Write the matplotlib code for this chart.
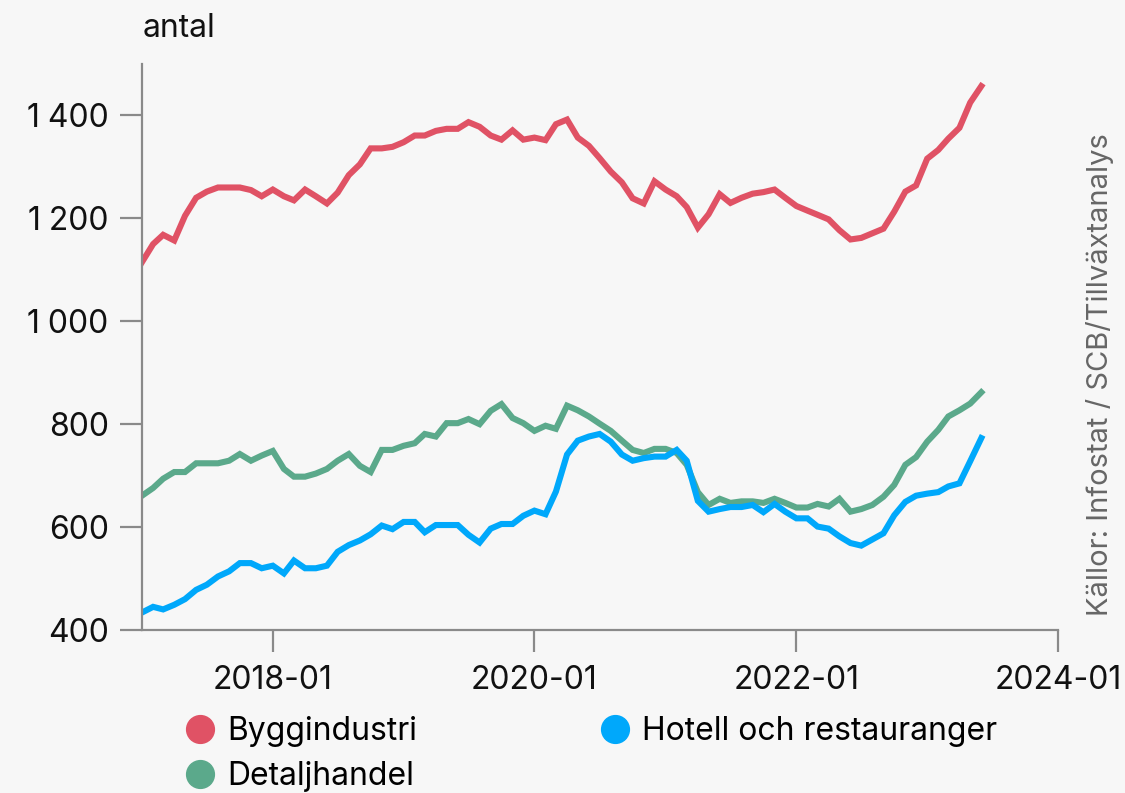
import matplotlib.pyplot as plt
import matplotlib.dates as mdates
import pandas as pd

# monthly values, 2017-01 .. 2023-06
months = pd.date_range("2017-01-01", periods=78, freq="MS")

bygg = [1115, 1150, 1168, 1157, 1205, 1240, 1252, 1260, 1260, 1260,
        1255, 1243, 1256, 1243, 1235, 1256, 1243, 1229, 1250, 1284,
        1305, 1336, 1336, 1339, 1348, 1361, 1361, 1370, 1374, 1374,
        1387, 1378, 1361, 1353, 1371, 1353, 1357, 1352, 1383, 1392,
        1357, 1341, 1317, 1291, 1270, 1239, 1229, 1272, 1256, 1243,
        1222, 1182, 1208, 1247, 1230, 1240, 1248, 1251, 1256, 1240,
        1224, 1215, 1207, 1198, 1177, 1159, 1162, 1171, 1180, 1213,
        1252, 1264, 1316, 1333, 1355, 1376, 1425, 1457]

detalj = [661, 676, 694, 707, 707, 724, 724, 724, 729, 742,
          729, 739, 748, 713, 698, 698, 704, 713, 729, 742,
          719, 707, 750, 750, 758, 763, 781, 776, 802, 802,
          810, 800, 826, 839, 812, 802, 787, 797, 791, 836,
          827, 815, 801, 787, 768, 750, 744, 752, 752, 744,
          721, 668, 643, 655, 647, 650, 650, 647, 655, 647,
          638, 638, 645, 640, 655, 630, 635, 643, 659, 682,
          721, 736, 766, 789, 815, 827, 840, 862]

hotell = [434, 445, 440, 449, 460, 478, 488, 504, 514, 530,
          530, 520, 525, 510, 535, 520, 520, 525, 552, 565,
          574, 586, 603, 596, 610, 610, 590, 604, 604, 604,
          585, 570, 597, 606, 606, 622, 632, 625, 669, 741,
          768, 776, 781, 766, 741, 729, 734, 737, 737, 750,
          729, 651, 630, 635, 639, 639, 643, 629, 645, 630,
          617, 617, 601, 597, 582, 569, 564, 576, 588, 623,
          649, 661, 665, 668, 679, 685, 728, 773]

series_names = ["Byggindustri", "Detaljhandel", "Hotell och restauranger"]
colors = ["#e05265", "#5ba98b", "#00a8fb"]

y_ticks = [400, 600, 800, 1000, 1200, 1400]
y_labels = ["400", "600", "800", "1\u2005000", "1\u2005200", "1\u2005400"]
x_ticks = ["2018-01-01", "2020-01-01", "2022-01-01", "2024-01-01"]

plt.rcParams["font.family"] = ["Inter", "DejaVu Sans"]
bg = "#f7f7f7"
axis_col = "#8a8a8a"
fs = 23

fig = plt.figure(figsize=(11.25, 7.93), dpi=100, facecolor=bg)
ax = fig.add_axes([142 / 1125, 1 - 630 / 793, 916 / 1125, 566 / 793])
ax.set_facecolor(bg)

for vals, name, c in zip([bygg, detalj, hotell], series_names, colors):
    ax.plot(months, vals, color=c, lw=4.4, label=name, solid_joinstyle="miter")

ax.set_xlim(pd.Timestamp("2017-01-01"), pd.Timestamp("2024-01-01"))
ax.set_ylim(400, 1500)
ax.set_yticks(y_ticks)
ax.set_yticklabels(y_labels)
ax.set_xticks(pd.to_datetime(x_ticks))
ax.xaxis.set_major_formatter(mdates.DateFormatter("%Y-%m"))

for s in ["top", "right"]:
    ax.spines[s].set_visible(False)
for s in ["left", "bottom"]:
    ax.spines[s].set_color(axis_col)
    ax.spines[s].set_linewidth(1.6)
ax.tick_params(axis="both", colors=axis_col, width=1.6, length=16,
               labelsize=fs, labelcolor="#111111")
ax.tick_params(axis="y", pad=8)
ax.tick_params(axis="x", pad=9)

fig.text(143 / 1125, 1 - 37 / 793, "antal", fontsize=fs, color="#111111")
fig.text(1100 / 1125, 1 - 375 / 793, "Källor: Infostat / SCB/Tillväxtanalys",
         rotation=90, fontsize=21, color="#666666", ha="center", va="center")

handles = [plt.Line2D([], [], ls="", marker="o", markersize=20, color=c)
           for c in colors]
fig.legend(handles, series_names, loc="upper left", ncol=2,
           bbox_to_anchor=(171 / 1125, 1 - 703 / 793), frameon=False,
           fontsize=fs, handlelength=1.0, handletextpad=0.35,
           columnspacing=5.7, labelspacing=0.45, borderaxespad=0)

fig.savefig("out.png", dpi=100, facecolor=bg)
